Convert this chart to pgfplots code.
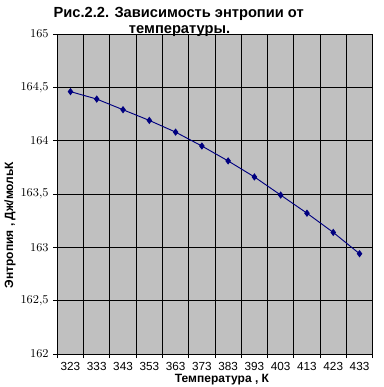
\documentclass[border=0pt]{standalone}
\usepackage{pgfplots}
\pgfplotsset{compat=1.18}
\usepackage{fontspec}
\setmainfont{Liberation Sans}
\definecolor{bg}{HTML}{C0C0C0}
\definecolor{navy}{HTML}{000080}
\begin{document}
\begin{tikzpicture}
\useasboundingbox (-43pt,-24.75pt) rectangle (245pt,265.5pt);
\begin{axis}[at={(0,0)}, anchor=south west, scale only axis,
  width=236.5pt, height=240pt,
  xmin=-0.5, xmax=11.5, ymin=162, ymax=165,
  xtick={0,...,11},
  xticklabels={323,333,343,353,363,373,383,393,403,413,423,433},
  minor xtick={-0.5,0.5,...,11.5},
  ytick={162,162.5,...,165},
  xmajorgrids=false, xminorgrids=true, ymajorgrids=true,
  grid style={black, line width=0.6pt},
  minor grid style={black, line width=0.6pt},
  axis line style={black, line width=0.6pt},
  axis background/.style={fill=bg},
  tick align=outside, tick pos=left,
  major tick length=3pt, minor tick length=3pt,
  major x tick style={draw=none},
  tick style={black, line width=0.6pt},
  ticklabel style={font=\fontsize{8.8}{10}\selectfont},
  /pgf/number format/.cd, use comma, fixed, precision=1, 1000 sep={},
]
\addplot[navy, line width=0.7pt, mark=diamond*, mark size=2.2pt, mark options={fill=navy, draw=navy}]
coordinates {
(0,164.46) (1,164.39) (2,164.29) (3,164.19) (4,164.08) (5,163.95)
(6,163.81) (7,163.66) (8,163.49) (9,163.32) (10,163.14) (11,162.94)
};
\end{axis}
\node[font=\bfseries\fontsize{11}{13}\selectfont, anchor=base] at (91pt,252.75pt) {Рис.2.2. Зависимость энтропии от};
\node[font=\bfseries\fontsize{11}{13}\selectfont, anchor=base] at (91.7pt,240.75pt) {температуры.};
\node[font=\bfseries\fontsize{9}{10}\selectfont, anchor=base] at (123.5pt,-21.75pt) {Температура , К};
\node[font=\bfseries\fontsize{9}{10}\selectfont, rotate=90, anchor=center] at (-35.5pt,96.75pt) {Энтропия , Дж/мольК};
\end{tikzpicture}
\end{document}
